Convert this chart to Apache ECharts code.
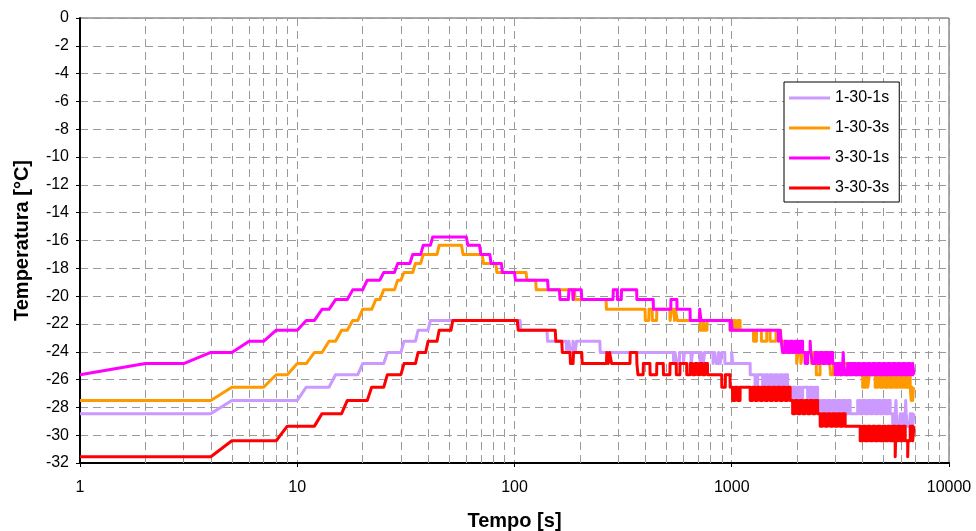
<!DOCTYPE html>
<html>
<head>
<meta charset="utf-8">
<script src="https://cdn.jsdelivr.net/npm/echarts@6/dist/echarts.min.js"></script>
<style>
  html, body { margin: 0; padding: 0; background: #fff; }
  #chart { width: 976px; height: 531px; }
</style>
</head>
<body>
<div id="chart"></div>
<script>
// Temperature logs, stored as breakpoints [time in s, temperature in °C]:
// each reading holds until one second before the next breakpoint.
const seriesNames = ['1-30-1s', '1-30-3s', '3-30-1s', '3-30-3s'];
const seriesColors = ['#CC99FF', '#FF9900', '#FF00FF', '#FF0000'];

const s130_1s = [
  [1,-28.45],[5,-27.5],[11,-26.55],[15,-25.65],[20,-24.85],[26,-24.05],[31,-23.25],[36,-22.45],[41,-21.75],
  [107,-22.45],[142,-23.25],[174,-24.05],[178,-23.25],[181,-24.05],[186,-23.25],[190,-24.05],[193,-23.25],[248,-24.05],
  [540,-24.85],[548,-24.05],[560,-24.85],[575,-24.05],[600,-24.85],[605,-24.05],[650,-24.85],[660,-24.05],
  [715,-24.85],[725,-24.05],[740,-24.85],[750,-24.05],[820,-24.85],[835,-24.05],[850,-24.85],[870,-24.05],
  [885,-24.85],[900,-24.05],[930,-24.85],[1000,-24.05],[1010,-24.85],
  [1216,-25.65],[1281,-26.55],[1316,-25.65],[1387,-26.55],[1425,-25.65],[1463,-26.55],[1502,-25.65],[1543,-26.55],
  [1584,-25.65],[1626,-26.55],[1670,-25.65],[1715,-26.55],[1761,-25.65],[1808,-26.55],
  [1857,-27.5],[1907,-26.55],[1958,-27.5],[2011,-26.55],[2065,-27.5],[2120,-26.55],[2236,-27.5],[2296,-26.55],
  [2358,-27.5],[2421,-26.55],[2486,-27.5],
  [2553,-28.45],[2622,-27.5],[2692,-28.45],[2764,-27.5],[2838,-28.45],[2915,-27.5],[2993,-28.45],[3073,-27.5],
  [3156,-28.45],[3241,-27.5],[3328,-28.45],[3417,-27.5],[3509,-28.45],
  [3799,-27.5],[3901,-28.45],[4006,-27.5],[4114,-28.45],[4224,-27.5],[4337,-28.45],[4454,-27.5],[4573,-28.45],
  [4696,-27.5],[4823,-28.45],[4952,-27.5],[5085,-28.45],[5222,-27.5],[5362,-28.45],
  [5506,-29.35],[5654,-28.45],[5700,-27.5],[5730,-28.45],[5806,-29.35],[5962,-28.45],[6122,-29.35],[6287,-28.45],
  [6320,-27.5],[6350,-28.45],[6455,-29.35],[6629,-28.45],[6807,-29.35],[6900,-28.45]
];

const s130_3s = [
  [1,-27.5],[5,-26.55],[8,-25.65],[10,-24.85],[12,-24.05],[14,-23.25],[16,-22.45],[18,-21.75],[20,-20.95],
  [23,-20.25],[25,-19.55],[29,-18.85],[31,-18.3],[35,-17.65],[38,-17.0],[45,-16.35],[58,-17.0],[72,-17.65],
  [83,-18.3],[114,-18.85],[126,-19.55],[190,-20.25],[265,-20.95],
  [400,-21.75],[416,-20.95],[431,-21.75],[452,-20.95],[520,-21.75],[530,-20.95],[545,-21.75],[550,-20.95],[562,-21.75],
  [716,-22.45],[740,-21.75],[750,-22.45],[770,-21.75],
  [983,-22.45],[1009,-21.75],[1036,-22.45],[1064,-21.75],[1093,-22.45],
  [1260,-23.25],[1300,-22.45],[1370,-23.25],[1450,-22.45],[1502,-23.25],[1600,-22.45],[1680,-23.25],[1750,-24.05],
  [1990,-24.85],[2020,-24.05],[2080,-24.85],[2120,-24.05],[2200,-24.85],[2240,-24.05],[2330,-24.85],[2380,-24.05],
  [2450,-25.65],[2550,-24.05],[2600,-24.85],[2660,-24.05],[2740,-24.85],[2800,-24.05],[2850,-25.65],[2940,-24.85],
  [3100,-25.65],[3200,-24.85],[3400,-25.65],[3500,-24.85],[3700,-25.65],
  [4006,-26.55],[4114,-25.65],[4224,-26.55],[4300,-25.65],
  [4573,-26.55],[4696,-25.65],[4823,-26.55],[4952,-25.65],[5085,-26.55],[5222,-25.65],
  [5362,-26.55],[5506,-25.65],[5654,-26.55],[5806,-25.65],[5962,-26.55],[6122,-25.65],[6287,-26.55],[6455,-25.65],
  [6629,-26.55],[6700,-27.5],[6760,-26.55],[6807,-27.5],[6860,-26.55],[6900,-26.55]
];

const s330_1s = [
  [1,-25.65],[2,-24.85],[4,-24.05],[6,-23.25],[8,-22.45],[11,-21.75],[13,-20.95],[15,-20.25],[18,-19.55],
  [21,-18.85],[25,-18.3],[29,-17.65],[34,-17.0],[38,-16.35],[42,-15.75],[61,-16.35],[70,-17.0],[78,-17.65],
  [88,-18.3],[101,-18.85],[143,-19.55],[162,-20.25],[178,-19.55],[186,-20.25],[188,-19.55],[204,-20.25],
  [285,-19.55],[298,-20.25],[311,-19.55],[366,-20.25],[436,-20.95],[525,-20.25],[560,-20.95],[644,-21.75],
  [712,-20.95],[722,-21.75],
  [984,-22.45],[995,-21.75],[1005,-22.45],
  [1640,-23.25],[1670,-22.45],[1690,-23.25],[1715,-24.05],[1761,-23.25],[1808,-24.05],[1857,-23.25],[1907,-24.05],
  [1958,-23.25],[2011,-24.05],[2065,-23.25],[2120,-24.05],
  [2177,-24.85],[2236,-24.05],[2296,-23.25],[2310,-24.05],[2358,-24.85],[2421,-24.05],[2486,-24.85],[2553,-24.05],
  [2622,-24.85],[2692,-24.05],[2764,-24.85],[2838,-24.05],[2915,-24.85],
  [2993,-25.65],[3073,-24.85],[3156,-25.65],[3241,-24.85],[3260,-24.05],[3275,-24.85],[3328,-25.65],[3417,-24.85],
  [3509,-25.65],[3603,-24.85],[3700,-25.65],[3799,-24.85],[3901,-25.65],[4006,-24.85],[4114,-25.65],[4224,-24.85],
  [4337,-25.65],[4454,-24.85],[4573,-25.65],[4696,-24.85],[4823,-25.65],[4952,-24.85],[5085,-25.65],[5222,-24.85],
  [5362,-25.65],[5506,-24.85],[5654,-25.65],[5806,-24.85],[5962,-25.65],[6122,-24.85],[6287,-25.65],[6455,-24.85],
  [6629,-25.65],[6807,-24.85],[6900,-25.65]
];

const s330_3s = [
  [1,-31.55],[5,-30.4],[9,-29.35],[13,-28.45],[17,-27.5],[22,-26.55],[26,-25.65],[31,-24.85],[36,-24.05],
  [40,-23.25],[45,-22.45],[52,-21.75],
  [104,-22.45],[155,-23.25],[166,-24.05],[181,-24.85],[187,-24.05],[205,-24.85],[266,-24.05],[270,-24.85],
  [274,-24.05],[280,-24.85],
  [341,-24.05],[366,-24.85],[370,-25.65],[392,-24.85],[421,-25.65],[452,-24.85],[485,-25.65],[520,-24.85],
  [556,-25.65],[578,-24.85],
  [621,-25.65],[644,-24.85],[661,-25.65],[679,-24.85],[697,-25.65],[715,-24.85],[734,-25.65],[754,-24.85],
  [774,-25.65],
  [900,-26.55],[935,-25.65],[983,-26.55],[1009,-27.5],[1036,-26.55],[1064,-27.5],[1093,-26.55],
  [1216,-27.5],[1248,-26.55],[1281,-27.5],[1316,-26.55],[1351,-27.5],[1387,-26.55],[1425,-27.5],[1463,-26.55],
  [1502,-27.5],[1543,-26.55],[1584,-27.5],[1626,-26.55],[1670,-27.5],[1715,-26.55],[1761,-27.5],[1808,-26.55],
  [1857,-27.5],
  [1907,-28.45],[1958,-27.5],[2011,-28.45],[2065,-27.5],[2120,-28.45],[2177,-27.5],[2236,-28.45],[2296,-27.5],
  [2358,-28.45],[2421,-27.5],[2486,-28.45],
  [2553,-29.35],[2622,-28.45],[2692,-29.35],[2764,-28.45],[2838,-29.35],[2915,-28.45],[2993,-29.35],[3073,-28.45],
  [3156,-29.35],[3241,-28.45],[3328,-29.35],
  [3901,-30.4],[4006,-29.35],[4114,-30.4],[4224,-29.35],[4337,-30.4],[4454,-29.35],[4573,-30.4],[4696,-29.35],
  [4823,-30.4],[4952,-29.35],[5085,-30.4],[5222,-29.35],[5362,-30.4],[5506,-29.35],[5654,-31.55],[5680,-30.4],
  [5806,-29.35],[5962,-30.4],[6122,-29.35],[6287,-30.4],[6455,-31.55],[6480,-30.4],[6629,-29.35],[6807,-30.4],
  [6900,-29.35]
];

const xTickLabels = ['1', '10', '100', '1000', '10000'];
const yTickLabels = ['-32','-30','-28','-26','-24','-22','-20','-18','-16','-14','-12','-10','-8','-6','-4','-2','0'];
// Intermediate log-decade grid values (2..9 of every decade)
const minorGridTimes = [
  2,3,4,5,6,7,8,9,
  20,30,40,50,60,70,80,90,
  200,300,400,500,600,700,800,900,
  2000,3000,4000,5000,6000,7000,8000,9000
];

// Turn breakpoints into a polyline: each reading is held until the sample before the next one.
function holdSteps(bp) {
  const pts = [];
  for (let i = 0; i < bp.length; i++) {
    const t = bp[i][0], v = bp[i][1];
    pts.push([t, v]);
    if (i + 1 < bp.length) {
      const tEnd = bp[i + 1][0] - 1;
      if (tEnd > t) pts.push([tEnd, v]);
    }
  }
  return pts;
}

const FONT = '"Liberation Sans", Arial, Helvetica, sans-serif';
const gridDash = { color: '#9a9a9a', width: 1, type: [8, 5] };
const allData = [s130_1s, s130_3s, s330_1s, s330_3s];

const series = seriesNames.map((name, i) => ({
  name: name,
  type: 'line',
  data: holdSteps(allData[i]),
  showSymbol: false,
  symbol: 'none',
  z: 2,
  silent: true,
  lineStyle: { color: seriesColors[i], width: 3, join: 'round', cap: 'butt' },
  itemStyle: { color: seriesColors[i] }
}));

// Minor vertical grid lines attached to the first series, kept below all curves
series[0].markLine = {
  silent: true,
  z: 1,
  animation: false,
  symbol: ['none', 'none'],
  label: { show: false },
  emphasis: { disabled: true },
  lineStyle: gridDash,
  data: minorGridTimes.map(t => ({ xAxis: t }))
};

const chart = echarts.init(document.getElementById('chart'), null, { renderer: 'canvas' });
chart.setOption({
  animation: false,
  backgroundColor: '#ffffff',
  grid: {
    left: 80, right: 27, top: 18, bottom: 68,
    containLabel: false, outerBoundsMode: 'none',
    show: true, borderColor: '#555', borderWidth: 1, backgroundColor: 'transparent'
  },
  legend: {
    orient: 'vertical',
    left: 784, top: 82,
    padding: [8, 10, 6, 5],
    itemGap: 14,
    itemWidth: 41, itemHeight: 3,
    icon: 'rect',
    backgroundColor: '#ffffff',
    borderColor: '#000', borderWidth: 1,
    selectedMode: false,
    textStyle: { fontFamily: FONT, fontSize: 16, color: '#000', lineHeight: 16 },
    data: seriesNames
  },
  xAxis: {
    type: 'log', logBase: 10, min: 1, max: 10000,
    name: 'Tempo [s]', nameLocation: 'middle', nameGap: 48,
    nameTextStyle: { fontFamily: FONT, fontSize: 20, fontWeight: 'bold', color: '#000' },
    axisLine: { show: true, onZero: false, lineStyle: { color: '#000', width: 2 } },
    axisTick: { show: true, length: 4, lineStyle: { color: '#000', width: 1 } },
    axisLabel: {
      fontFamily: FONT, fontSize: 16, color: '#000', margin: 17,
      formatter: v => xTickLabels[Math.round(Math.log10(v))]
    },
    splitLine: { show: true, lineStyle: gridDash },
    minorTick: { show: false }, minorSplitLine: { show: false }
  },
  yAxis: {
    type: 'value', min: -32, max: 0, interval: 2,
    name: 'Temperatura [°C]', nameLocation: 'middle', nameGap: 48, nameRotate: 90,
    nameTextStyle: { fontFamily: FONT, fontSize: 20, fontWeight: 'bold', color: '#000' },
    axisLine: { show: true, onZero: false, lineStyle: { color: '#000', width: 2 } },
    axisTick: { show: true, length: 4, lineStyle: { color: '#000', width: 1 } },
    axisLabel: {
      fontFamily: FONT, fontSize: 16, color: '#000', margin: 11,
      formatter: v => yTickLabels[Math.round((v + 32) / 2)]
    },
    splitLine: { show: true, lineStyle: gridDash }
  },
  series: series
});
</script>
</body>
</html>
